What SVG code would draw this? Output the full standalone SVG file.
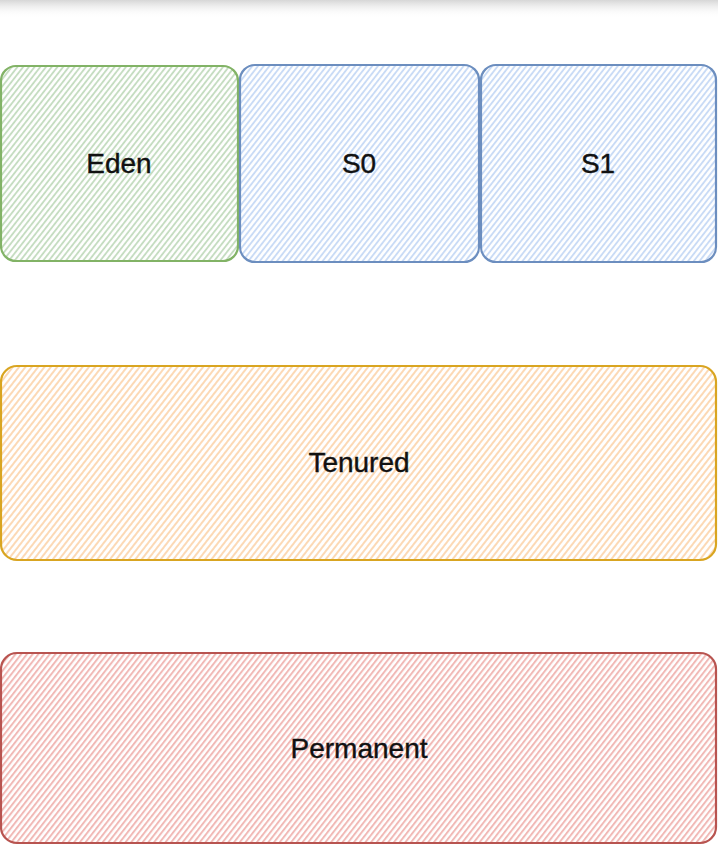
<svg xmlns="http://www.w3.org/2000/svg" width="718" height="846" viewBox="0 0 718 846">
  <defs>
    <linearGradient id="topShade" x1="0" y1="0" x2="0" y2="1">
      <stop offset="0" stop-color="#d6d6d6"/>
      <stop offset="1" stop-color="#ffffff" stop-opacity="0"/>
    </linearGradient>
    <pattern id="hGreen" width="4.5" height="4.5" patternUnits="userSpaceOnUse" patternTransform="rotate(38)">
      <line x1="1" y1="0" x2="1" y2="4.5" stroke="#c2dbbe" stroke-width="1.8"/>
    </pattern>
    <pattern id="hBlue" width="4.5" height="4.5" patternUnits="userSpaceOnUse" patternTransform="rotate(38)">
      <line x1="1" y1="0" x2="1" y2="4.5" stroke="#c6d9f5" stroke-width="1.8"/>
    </pattern>
    <pattern id="hOrange" width="5" height="5" patternUnits="userSpaceOnUse" patternTransform="rotate(38)">
      <line x1="1" y1="0" x2="1" y2="5" stroke="#fcd9b5" stroke-width="2"/>
    </pattern>
    <pattern id="hRed" width="4.5" height="4.5" patternUnits="userSpaceOnUse" patternTransform="rotate(38)">
      <line x1="1" y1="0" x2="1" y2="4.5" stroke="#f1b9b6" stroke-width="2"/>
    </pattern>
  </defs>
  <style>
    .box { stroke-width: 2.2; }
    .label { font-family: "Liberation Sans", Arial, sans-serif; font-size: 28px; fill: #111111; stroke: #111111; stroke-width: 0.4; text-anchor: middle; }
  </style>
  <rect x="0" y="0" width="718" height="846" fill="#ffffff"/>
  <rect x="0" y="0" width="718" height="18" fill="url(#topShade)"/>

  <g id="eden">
    <rect class="box" x="1" y="66" width="237" height="195" rx="15" fill="url(#hGreen)" stroke="#82b366"/>
    <text class="label" x="119" y="173">Eden</text>
  </g>
  <g id="s0">
    <rect class="box" x="240" y="65" width="239" height="197" rx="15" fill="url(#hBlue)" stroke="#6c8ebf"/>
    <text class="label" x="359" y="173">S0</text>
  </g>
  <g id="s1">
    <rect class="box" x="481" y="65" width="235" height="197" rx="15" fill="url(#hBlue)" stroke="#6c8ebf"/>
    <text class="label" x="598" y="173">S1</text>
  </g>
  <g id="tenured">
    <rect class="box" x="1" y="366" width="715" height="194" rx="16" fill="url(#hOrange)" stroke="#d9a521"/>
    <text class="label" x="359" y="472">Tenured</text>
  </g>
  <g id="permanent">
    <rect class="box" x="1" y="653" width="715" height="190" rx="16" fill="url(#hRed)" stroke="#b85450"/>
    <text class="label" x="359" y="758">Permanent</text>
  </g>
  <g id="connectors"></g>
</svg>
